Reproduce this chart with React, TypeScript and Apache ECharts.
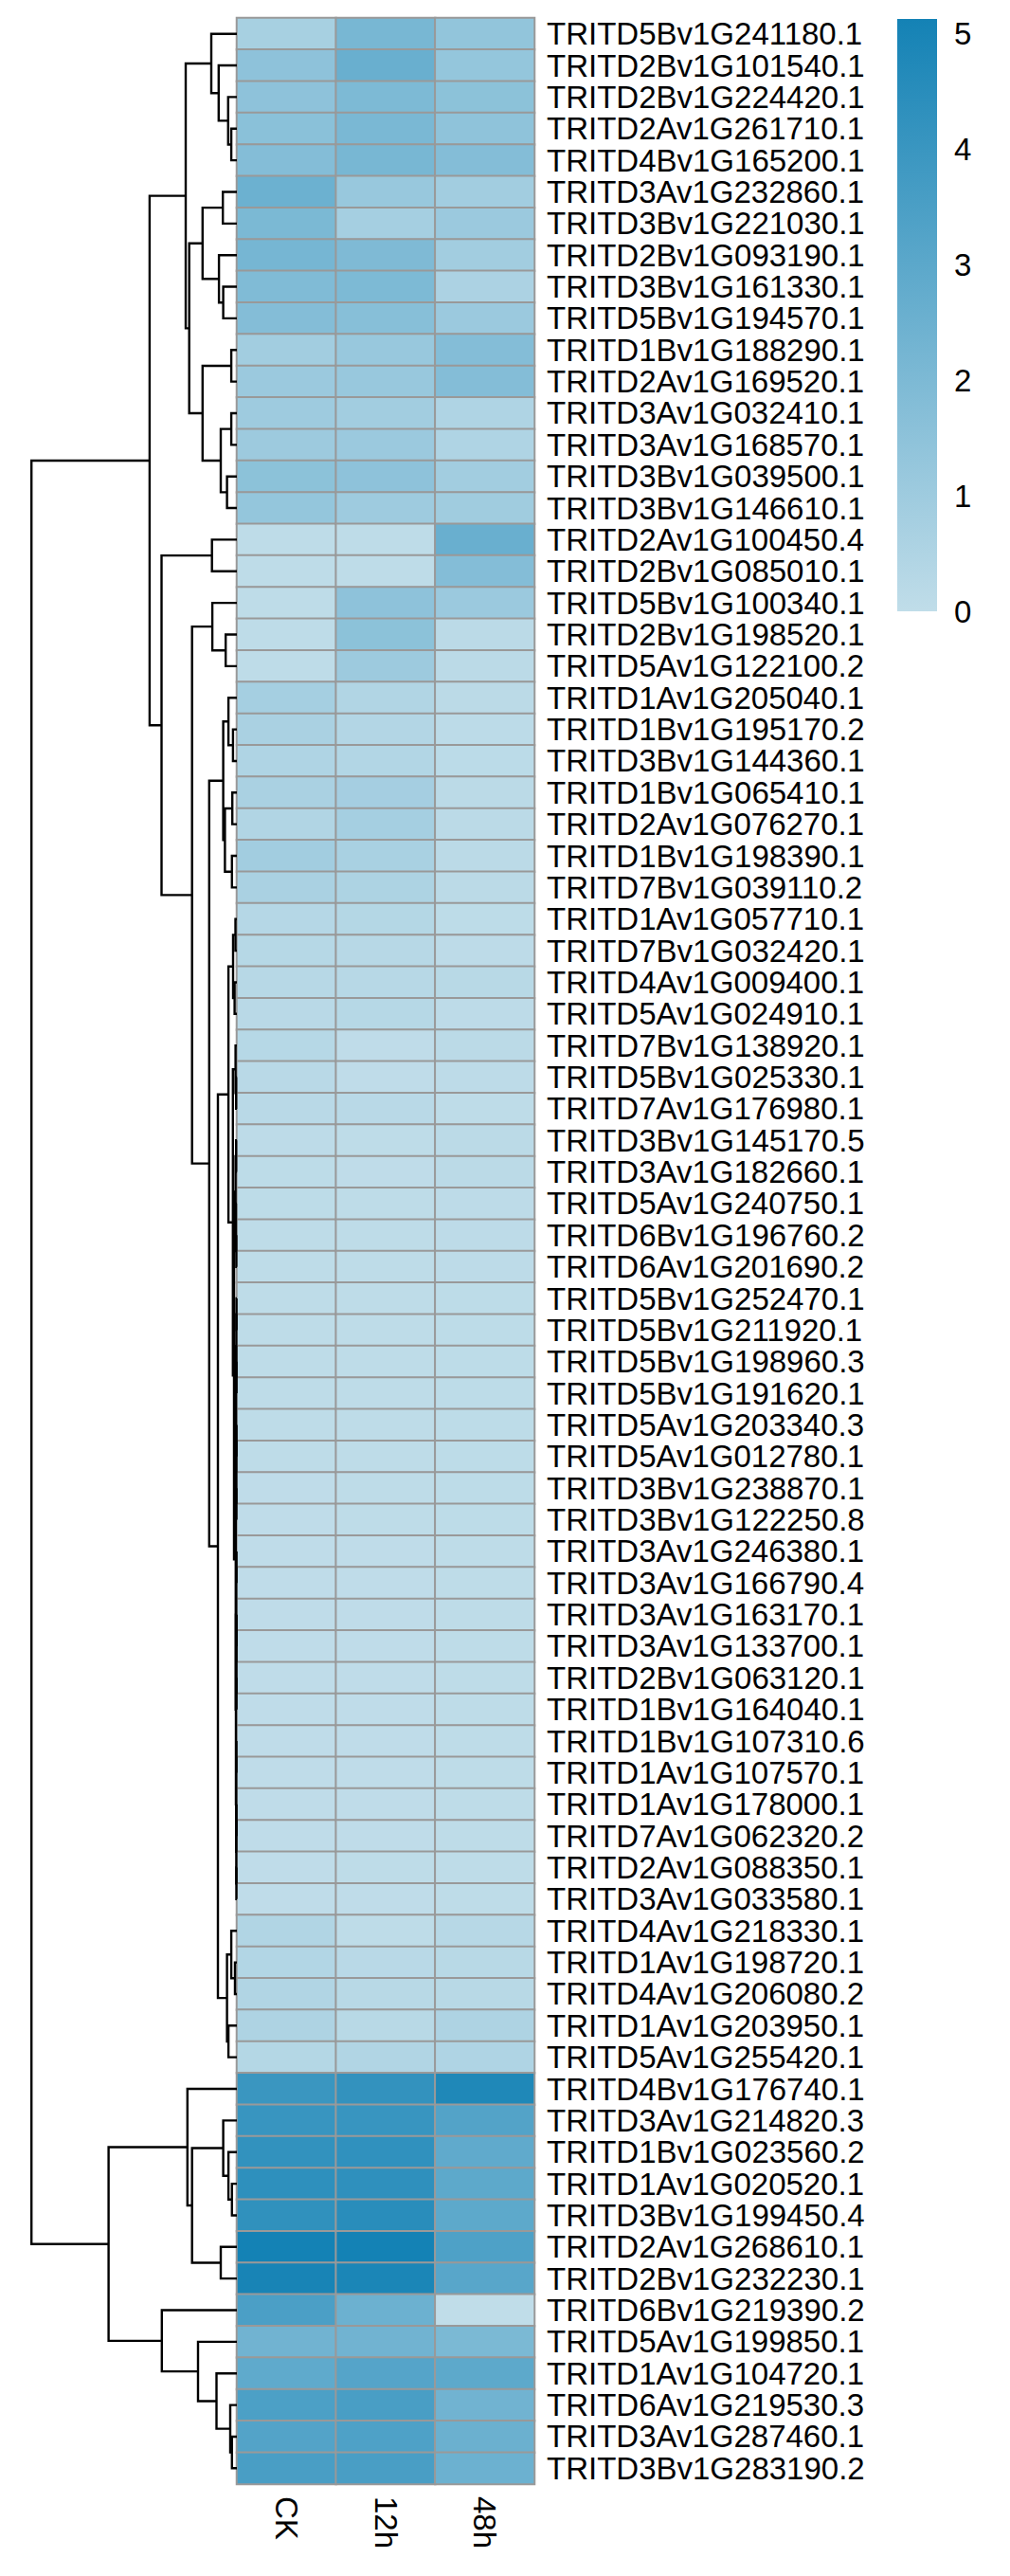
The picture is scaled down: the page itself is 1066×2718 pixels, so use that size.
import React, { useEffect, useRef } from 'react';
import * as echarts from 'echarts';

const genes = [
  'TRITD5Bv1G241180.1', 'TRITD2Bv1G101540.1', 'TRITD2Bv1G224420.1', 'TRITD2Av1G261710.1',
  'TRITD4Bv1G165200.1', 'TRITD3Av1G232860.1', 'TRITD3Bv1G221030.1', 'TRITD2Bv1G093190.1',
  'TRITD3Bv1G161330.1', 'TRITD5Bv1G194570.1', 'TRITD1Bv1G188290.1', 'TRITD2Av1G169520.1',
  'TRITD3Av1G032410.1', 'TRITD3Av1G168570.1', 'TRITD3Bv1G039500.1', 'TRITD3Bv1G146610.1',
  'TRITD2Av1G100450.4', 'TRITD2Bv1G085010.1', 'TRITD5Bv1G100340.1', 'TRITD2Bv1G198520.1',
  'TRITD5Av1G122100.2', 'TRITD1Av1G205040.1', 'TRITD1Bv1G195170.2', 'TRITD3Bv1G144360.1',
  'TRITD1Bv1G065410.1', 'TRITD2Av1G076270.1', 'TRITD1Bv1G198390.1', 'TRITD7Bv1G039110.2',
  'TRITD1Av1G057710.1', 'TRITD7Bv1G032420.1', 'TRITD4Av1G009400.1', 'TRITD5Av1G024910.1',
  'TRITD7Bv1G138920.1', 'TRITD5Bv1G025330.1', 'TRITD7Av1G176980.1', 'TRITD3Bv1G145170.5',
  'TRITD3Av1G182660.1', 'TRITD5Av1G240750.1', 'TRITD6Bv1G196760.2', 'TRITD6Av1G201690.2',
  'TRITD5Bv1G252470.1', 'TRITD5Bv1G211920.1', 'TRITD5Bv1G198960.3', 'TRITD5Bv1G191620.1',
  'TRITD5Av1G203340.3', 'TRITD5Av1G012780.1', 'TRITD3Bv1G238870.1', 'TRITD3Bv1G122250.8',
  'TRITD3Av1G246380.1', 'TRITD3Av1G166790.4', 'TRITD3Av1G163170.1', 'TRITD3Av1G133700.1',
  'TRITD2Bv1G063120.1', 'TRITD1Bv1G164040.1', 'TRITD1Bv1G107310.6', 'TRITD1Av1G107570.1',
  'TRITD1Av1G178000.1', 'TRITD7Av1G062320.2', 'TRITD2Av1G088350.1', 'TRITD3Av1G033580.1',
  'TRITD4Av1G218330.1', 'TRITD1Av1G198720.1', 'TRITD4Av1G206080.2', 'TRITD1Av1G203950.1',
  'TRITD5Av1G255420.1', 'TRITD4Bv1G176740.1', 'TRITD3Av1G214820.3', 'TRITD1Bv1G023560.2',
  'TRITD1Av1G020520.1', 'TRITD3Bv1G199450.4', 'TRITD2Av1G268610.1', 'TRITD2Bv1G232230.1',
  'TRITD6Bv1G219390.2', 'TRITD5Av1G199850.1', 'TRITD1Av1G104720.1', 'TRITD6Av1G219530.3',
  'TRITD3Av1G287460.1', 'TRITD3Bv1G283190.2',
];

const conditions = ['CK', '12h', '48h'];

const ck = [
  0.76, 1.5, 1.5, 1.6, 1.8, 2.5, 2.05, 2.2, 1.9, 1.8, 0.9, 1.1, 1.0, 1.05, 1.55, 1.3,
  0.05, 0.05, 0.05, 0.05, 0.05, 0.8, 0.65, 0.5, 0.65, 0.45, 0.9, 0.65, 0.33, 0.3, 0.27, 0.2,
  0.3, 0.2, 0.2, 0.1, 0.08, 0.08, 0.07, 0.07, 0.06, 0.06, 0.05, 0.05, 0.05, 0.05, 0.04, 0.04,
  0.03, 0.03, 0.03, 0.03, 0.03, 0.03, 0.03, 0.03, 0.03, 0.03, 0.03, 0.04,
  0.45, 0.42, 0.45, 0.55, 0.35,
  4.0, 4.05, 4.25, 4.35, 4.3, 5.13, 5.02, 3.5, 2.35, 2.9, 3.45, 3.25, 3.55,
];

const h12 = [
  2.15, 2.6, 2.0, 2.1, 2.15, 1.2, 0.8, 1.95, 2.0, 1.7, 1.2, 1.2, 0.9, 1.1, 1.5, 1.0,
  0.05, 0.05, 1.5, 1.55, 1.05, 0.45, 0.4, 0.42, 0.82, 0.8, 0.7, 0.58, 0.35, 0.27, 0.27, 0.3,
  0.04, 0.04, 0.2, 0.05, 0.04, 0.05, 0.05, 0.05, 0.05, 0.05, 0.05, 0.05, 0.05, 0.05, 0.05, 0.05,
  0.04, 0.04, 0.04, 0.04, 0.04, 0.04, 0.04, 0.04, 0.04, 0.04, 0.05, 0.04,
  0.05, 0.2, 0.25, 0.25, 0.45,
  4.2, 4.05, 4.28, 4.32, 4.5, 5.13, 4.92, 2.5, 2.35, 3.2, 3.55, 3.4, 3.55,
];

const h48 = [
  1.37, 1.3, 1.55, 1.45, 1.8, 0.9, 1.1, 0.9, 0.6, 1.1, 1.8, 1.8, 0.5, 0.5, 0.9, 0.95,
  2.6, 1.8, 1.1, 0.15, 0.15, 0.15, 0.12, 0.14, 0.15, 0.15, 0.15, 0.15, 0.08, 0.1, 0.25, 0.1,
  0.15, 0.1, 0.07, 0.15, 0.15, 0.1, 0.1, 0.1, 0.08, 0.08, 0.08, 0.08, 0.08, 0.08, 0.08, 0.08,
  0.06, 0.06, 0.06, 0.06, 0.06, 0.06, 0.06, 0.06, 0.07, 0.07, 0.07, 0.06,
  0.28, 0.25, 0.25, 0.55, 0.5,
  4.8, 3.25, 2.85, 2.95, 2.95, 3.4, 3.1, 0.0, 2.05, 2.95, 2.35, 2.55, 2.5,
];

const legendTicks = [0, 1, 2, 3, 4, 5];
const scaleMin = 0;
const scaleMax = 5.13;
const colorLow = '#c0dde9';
const colorHigh = '#1482b5';

// Row dendrogram: [merge height, left subtree, right subtree]; numbers are row indices.
type TreeNode = number | [number, TreeNode, TreeNode];

const clusterT1: TreeNode = [0.07, [0.04, 35, 36], [0.05, 37, [0.03, 38, 39]]];
const clusterT2: TreeNode = [0.06,
  [0.045, [0.03, [0.02, 40, 41], [0.02, 42, 43]], [0.03, [0.02, 44, 45], [0.025, 46, 47]]],
  [0.05, [0.035, [0.02, 48, 49], [0.025, [0.015, 50, 51], [0.02, 52, 53]]],
    [0.04, [0.025, 54, 55], [0.03, [0.02, 56, 57], [0.025, 58, 59]]]]];

const clusterP: TreeNode = [0.445,
  [0.2, [0.075, 28, 29], [0.12, 30, 31]],
  [0.21, [0.07, 32, [0.04, 33, 34]], [0.15, clusterT1, clusterT2]]];

const clusterR: TreeNode = [0.52, [0.295, 60, [0.1, 61, 62]], [0.445, 63, 64]];

const clusterTop: TreeNode = [2.70,
  [1.35, 0, [0.96, 1, [0.46, 2, [0.295, 3, 4]]]],
  [2.515,
    [1.81, [0.74, 5, 6], [0.945, 7, [0.72, 8, 9]]],
    [1.81, [0.295, 10, 11], [0.85, [0.295, 12, 13], [0.52, 14, 15]]]]];

const clusterK: TreeNode = [3.975,
  [1.315, 16, 17],
  [2.365,
    [1.295, 18, [0.59, 19, 20]],
    [1.46,
      [0.72, [0.445, 21, [0.205, 22, 23]], [0.63, [0.24, 24, 25], [0.26, 26, 27]]],
      [1.0, clusterP, clusterR]]]];

const clusterV: TreeNode = [6.77,
  [2.61, 65, [2.365, [0.72, 66, [0.445, 67, [0.26, 68, 69]]], [0.85, 70, 71]]],
  [3.96, 72, [2.05, 73, [1.075, 74, [0.35, 75, [0.26, 76, 77]]]]]];

const dendrogram: TreeNode = [10.84, [4.605, clusterTop, clusterK], clusterV];
const dendroAxisMax = 11.5;

function layoutTree(node: TreeNode, segs: number[][]): { y: number; h: number } {
  if (typeof node === 'number') return { y: node, h: 0 };
  const a = layoutTree(node[1], segs);
  const b = layoutTree(node[2], segs);
  segs.push([a.h, a.y, node[0], b.y, b.h]);
  return { y: (a.y + b.y) / 2, h: node[0] };
}

const FONT = '"Liberation Sans", Arial, Helvetica, sans-serif';

export default function App() {
  const ref = useRef<HTMLDivElement>(null);

  useEffect(() => {
    if (!ref.current) return;
    const chart = echarts.init(ref.current, undefined, { renderer: 'svg' });

    const cols = [ck, h12, h48];
    const heatData: number[][] = [];
    cols.forEach((arr, c) => arr.forEach((v, r) => heatData.push([c, r, v])));

    const segs: number[][] = [];
    layoutTree(dendrogram, segs);

    const option: any = {
      animation: false,
      backgroundColor: '#ffffff',
      textStyle: { fontFamily: FONT },
      grid: [
        { left: 250, top: 19, width: 314, height: 2602 },
        { left: 20, top: 19, width: 230, height: 2602 },
        { left: 947, top: 20, width: 42, height: 625 },
      ],
      xAxis: [
        {
          type: 'category', gridIndex: 0, data: conditions, position: 'bottom',
          axisLine: { show: false }, axisTick: { show: false }, splitLine: { show: false },
          axisLabel: { rotate: -90, margin: 13, fontSize: 33, color: '#000', fontFamily: FONT },
        },
        { type: 'value', gridIndex: 1, min: 0, max: dendroAxisMax, inverse: true, show: false },
        { type: 'category', gridIndex: 2, data: ['scale'], show: false },
      ],
      yAxis: [
        {
          type: 'category', gridIndex: 0, data: genes, inverse: true, position: 'right',
          axisLine: { show: false }, axisTick: { show: false }, splitLine: { show: false },
          axisLabel: { interval: 0, margin: 13, fontSize: 33, color: '#000', fontFamily: FONT },
        },
        { type: 'value', gridIndex: 1, min: -0.5, max: genes.length - 0.5, inverse: true, show: false },
        {
          type: 'value', gridIndex: 2, min: scaleMin, max: scaleMax, interval: 1, position: 'right',
          axisLine: { show: false }, axisTick: { show: false }, splitLine: { show: false },
          axisLabel: {
            margin: 18, fontSize: 33, color: '#000', fontFamily: FONT,
            formatter: (v: number) => (legendTicks.indexOf(v) >= 0 ? String(v) : ''),
          },
        },
      ],
      visualMap: {
        show: false, seriesIndex: 0, min: scaleMin, max: scaleMax,
        inRange: { color: [colorLow, colorHigh] },
      },
      series: [
        {
          type: 'heatmap', xAxisIndex: 0, yAxisIndex: 0, data: heatData,
          itemStyle: { borderColor: '#999999', borderWidth: 2 },
          emphasis: { disabled: true }, silent: true,
        },
        {
          type: 'custom', xAxisIndex: 1, yAxisIndex: 1, data: segs, silent: true, clip: false,
          renderItem: (params: any, api: any) => {
            const p1 = api.coord([api.value(0), api.value(1)]);
            const p2 = api.coord([api.value(2), api.value(1)]);
            const p3 = api.coord([api.value(2), api.value(3)]);
            const p4 = api.coord([api.value(4), api.value(3)]);
            return {
              type: 'polyline',
              shape: { points: [p1, p2, p3, p4] },
              style: { stroke: '#000', lineWidth: 2.4, fill: null },
            };
          },
        },
        {
          type: 'bar', xAxisIndex: 2, yAxisIndex: 2, data: [scaleMax], barWidth: '100%', silent: true,
          itemStyle: {
            color: new echarts.graphic.LinearGradient(0, 0, 0, 1, [
              { offset: 0, color: colorHigh },
              { offset: 1, color: colorLow },
            ]),
          },
        },
      ],
    };

    chart.setOption(option);
    return () => chart.dispose();
  }, []);

  return (
    <div
      ref={ref}
      style={{ position: 'absolute', left: 0, top: 0, width: 1066, height: 2718, background: '#fff' }}
    />
  );
}
